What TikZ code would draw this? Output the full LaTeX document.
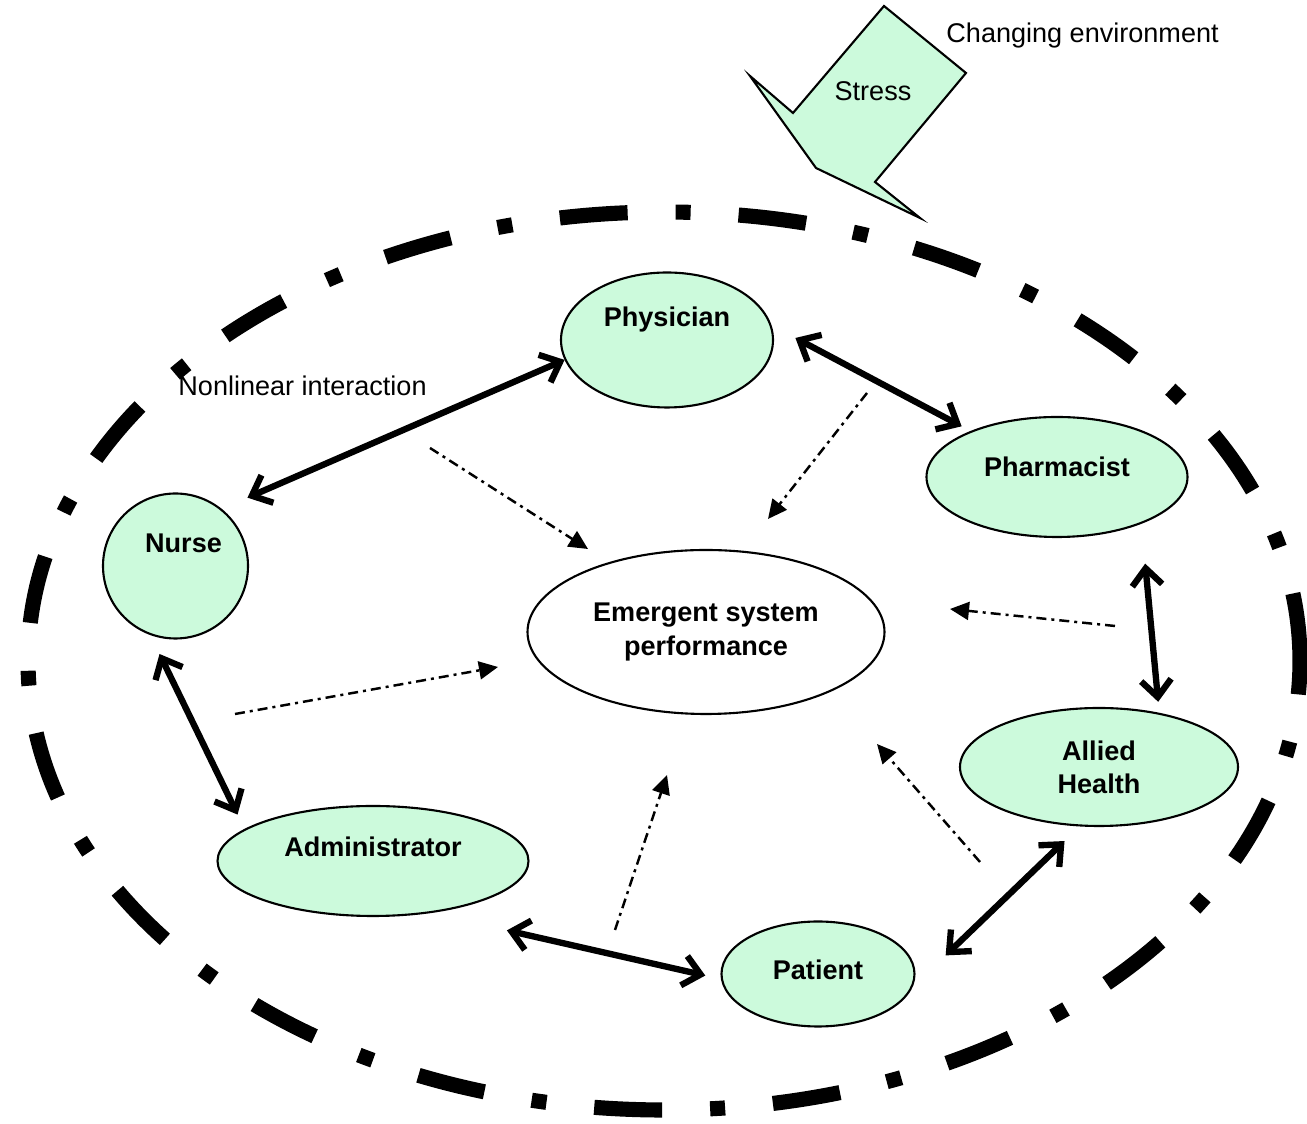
\documentclass[tikz,border=0pt]{standalone}
\usepackage{fontspec}
\setmainfont{Liberation Sans}
\usetikzlibrary{arrows.meta,shapes.geometric}
\definecolor{mint}{HTML}{CCFADC}

\begin{document}
\begin{tikzpicture}[font=\fontsize{7.7}{9.4}\selectfont,
  actor/.style={ellipse,draw,line width=0.6pt,fill=mint,inner sep=0pt,
    align=center,font=\fontsize{7.7}{9.4}\selectfont\bfseries},
  link/.style={line width=1.8pt,
    {Straight Barb[length=1.7mm,width=3mm]}-{Straight Barb[length=1.7mm,width=3mm]}},
  influence/.style={line width=0.7pt,dash pattern=on 1mm off 0.5mm on 0.3mm off 0.5mm,
    -{Triangle[length=1.9mm,width=1.8mm]}},
  boundary/.style={line width=4.3pt,dash pattern=on 6.8mm off 4.8mm on 1.5mm off 4.8mm}]
  \useasboundingbox (0,0) rectangle (13.07,-11.24);

  % system border
  \draw[boundary] (6.64,-6.61) ellipse [x radius=6.36, y radius=4.49];

  % stress coming in from outside
  \draw[line width=0.6pt,fill=mint] (8.84,-0.06) -- (9.66,-0.73) -- (8.75,-1.82)
    -- (9.20,-2.18) -- (8.16,-1.68) -- (7.50,-0.76) -- (7.93,-1.13) -- cycle;
  \node (stress) at (8.73,-0.91) {Stress};
  \node[anchor=west] (env) at (9.34,-0.36) {Changing environment};
  \node[anchor=west] (nonlin) at (1.66,-3.86) {Nonlinear interaction};

  % actors
  \node[actor,minimum width=2.12cm,minimum height=1.35cm,text depth=13pt] (physician) at (6.67,-3.40) {Physician};
  \node[actor,minimum width=2.61cm,minimum height=1.20cm,text depth=6pt] (pharmacist) at (10.57,-4.77) {Pharmacist};
  \node[actor,circle,minimum size=1.45cm,text depth=13pt] (nurse) at (1.755,-5.66) {\hspace{0.16cm}Nurse};
  \node[actor,fill=white,minimum width=3.57cm,minimum height=1.64cm] (emergent) at (7.06,-6.32) {Emergent system\\performance};
  \node[actor,minimum width=2.78cm,minimum height=1.18cm] (allied) at (10.99,-7.67) {Allied\\Health};
  \node[actor,minimum width=3.11cm,minimum height=1.10cm,text depth=8pt] (admin) at (3.73,-8.61) {Administrator};
  \node[actor,minimum width=1.93cm,minimum height=1.05cm,text depth=2.5pt] (patient) at (8.18,-9.74) {Patient};

  % two-way interactions
  \path[link]
    (nurse.51) edge[shorten <=2.8mm] (physician.191)
    (physician.8.6) edge[shorten <=2.7mm,shorten >=1mm] (pharmacist.152.3)
    (pharmacist.-29.6) edge[shorten <=4mm,shorten >=1.1mm] (allied.42.2)
    (nurse.250.2) edge[shorten <=2.1mm,shorten >=1.6mm] (admin.166.2)
    (admin.-42.5) edge[shorten <=7.8mm,shorten >=1.6mm] (patient.183.9)
    (patient.-8) edge[shorten <=4.6mm,shorten >=2.1mm] (allied.252.2);

  % contributions to the emergent behaviour
  \coordinate (s1) at (4.30,-4.48);  \coordinate (t1) at (5.88,-5.49);
  \coordinate (s2) at (8.67,-3.93);  \coordinate (t2) at (7.68,-5.19);
  \coordinate (s3) at (11.15,-6.26); \coordinate (t3) at (9.50,-6.09);
  \coordinate (s4) at (2.35,-7.14);  \coordinate (t4) at (4.98,-6.67);
  \coordinate (s5) at (6.15,-9.30);  \coordinate (t5) at (6.67,-7.75);
  \coordinate (s6) at (9.80,-8.62);  \coordinate (t6) at (8.77,-7.44);
  \path[influence]
    (s1) edge (t1) (s2) edge (t2) (s3) edge (t3)
    (s4) edge (t4) (s5) edge (t5) (s6) edge (t6);
\end{tikzpicture}
\end{document}
